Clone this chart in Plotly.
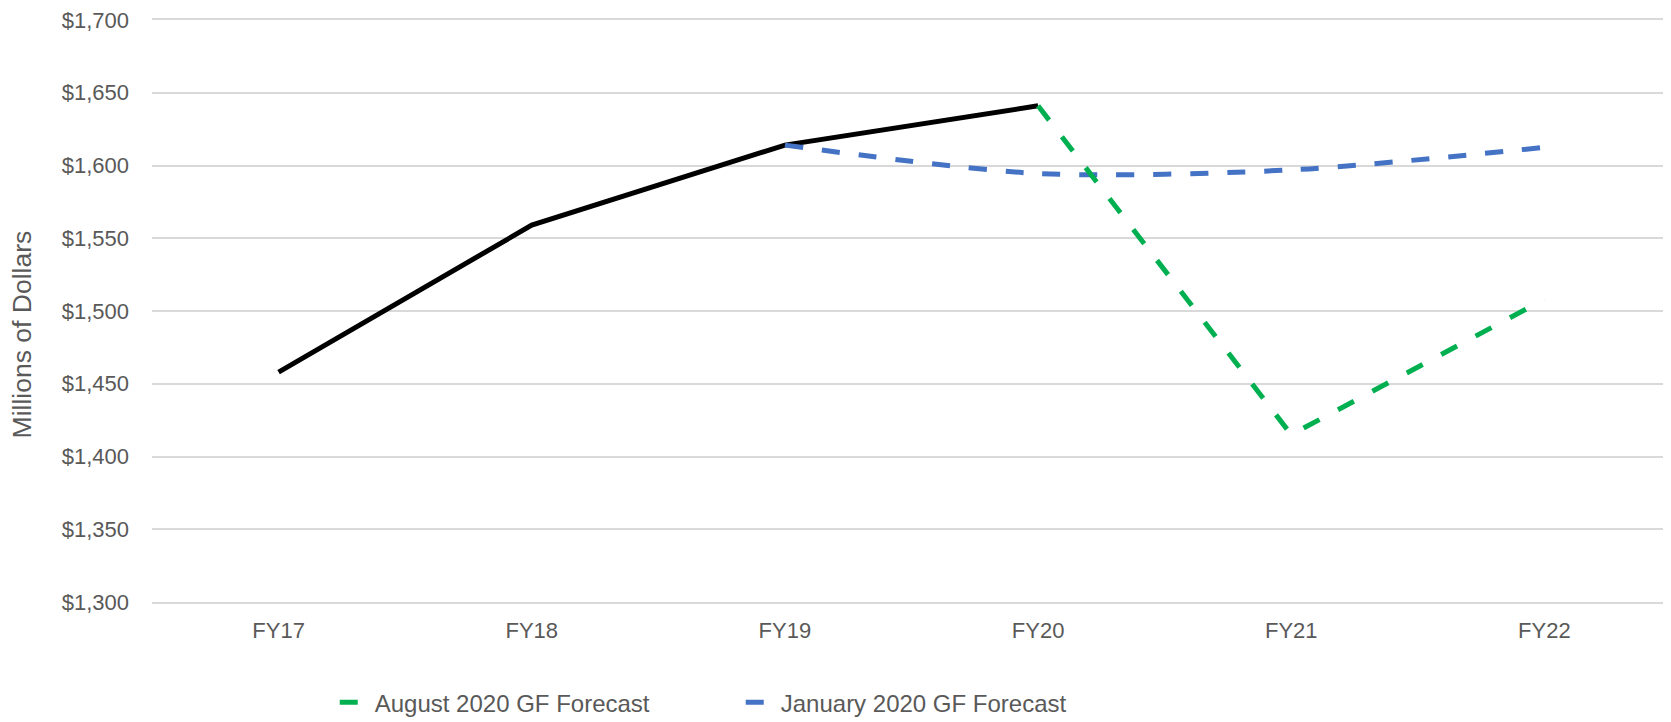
import plotly.graph_objects as go

categories = ["FY17", "FY18", "FY19", "FY20", "FY21", "FY22"]

actual_x = ["FY17", "FY18", "FY19", "FY20"]
actual_y = [1458, 1559, 1614, 1641]

jan_x = ["FY19", "FY20", "FY21", "FY22"]
jan_y = [1614, 1594.5, 1597, 1612.5]

aug_x = ["FY20", "FY21", "FY22"]
aug_y = [1641, 1415, 1508]

y_ticks = [1300, 1350, 1400, 1450, 1500, 1550, 1600, 1650, 1700]
y_labels = ["$" + f"{v:,}" for v in y_ticks]

FONT = "Liberation Sans, Arial, sans-serif"
TEXT = "#595959"
GRID = "#d9d9d9"

fig = go.Figure()
fig.add_trace(go.Scatter(
    x=actual_x, y=actual_y, mode="lines", name="Actual",
    line=dict(color="#000000", width=5), showlegend=False,
))
fig.add_trace(go.Scatter(
    x=jan_x, y=jan_y, mode="lines", name="January 2020 GF Forecast",
    line=dict(color="#4472C4", width=5, dash="18px,19px", shape="spline", smoothing=0.8),
    legendrank=2,
))
fig.add_trace(go.Scatter(
    x=aug_x, y=aug_y, mode="lines", name="August 2020 GF Forecast",
    line=dict(color="#00B050", width=5, dash="18px,21px"),
    legendrank=1,
))

# The page body adds an 8px offset, so the figure is sized to fit the window.
fig.update_layout(
    width=1663, height=714,
    margin=dict(l=144, r=0, t=12, b=119.5, autoexpand=False),
    paper_bgcolor="white", plot_bgcolor="white",
    font=dict(family=FONT, color=TEXT, size=22),
    xaxis=dict(
        type="category", categoryorder="array", categoryarray=categories,
        range=[-0.5, 5.5], showgrid=False, zeroline=False,
        showline=True, mirror=True, linecolor=GRID, linewidth=1.5,
        ticks="", ticklabelstandoff=8,
        tickfont=dict(size=22, color=TEXT),
    ),
    yaxis=dict(
        range=[1300, 1700], tickvals=y_ticks, ticktext=y_labels,
        showgrid=True, gridcolor=GRID, gridwidth=1.5, zeroline=False,
        showline=False, ticks="", ticklabelstandoff=22,
        ticklabeloverflow="allow",
        tickfont=dict(size=22, color=TEXT),
    ),
    legend=dict(
        orientation="h", x=0.1203, xanchor="left", y=-0.173, yanchor="middle",
        font=dict(size=24, color=TEXT), entrywidth=361, entrywidthmode="pixels",
        bgcolor="rgba(0,0,0,0)",
    ),
    annotations=[dict(
        text="Millions of Dollars", xref="paper", yref="paper",
        x=-0.0855, y=0.46, xanchor="center", yanchor="middle",
        textangle=-90, showarrow=False, font=dict(size=26.5, color=TEXT),
    )],
)

fig.write_html("out.html")
